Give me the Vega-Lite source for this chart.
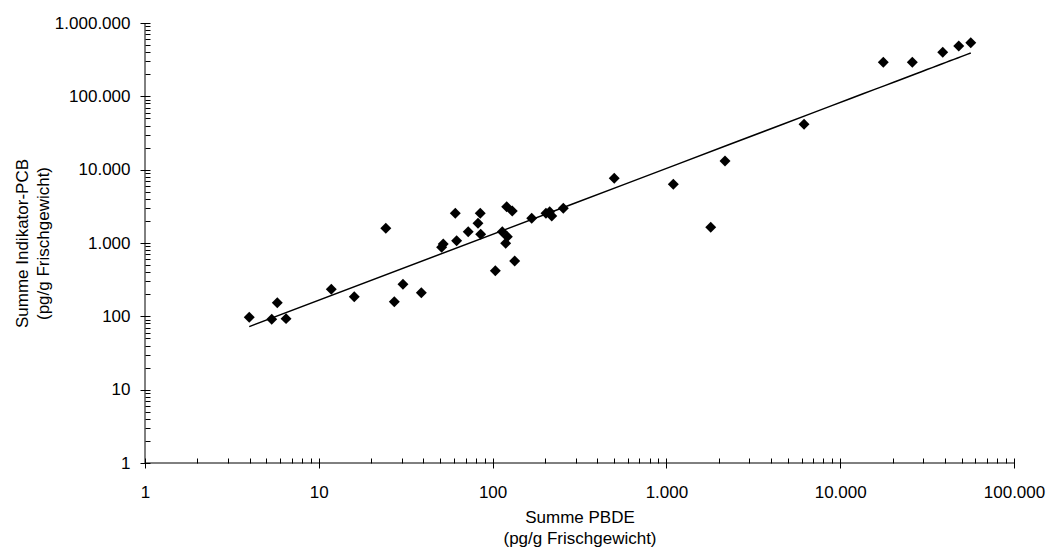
{
  "$schema": "https://vega.github.io/schema/vega-lite/v6.json",
  "width": 869,
  "height": 440,
  "autosize": "none",
  "padding": {"left": 145, "top": 23, "right": 39, "bottom": 91},
  "config": {
    "view": {"stroke": null},
    "locale": {"number": {"decimal": ",", "thousands": ".", "grouping": [3], "currency": ["", " €"]}},
    "axis": {
      "labelFont": "Liberation Sans",
      "labelFontSize": 17,
      "labelColor": "#000000",
      "titleFont": "Liberation Sans",
      "titleFontSize": 17,
      "titleFontWeight": "normal",
      "titleColor": "#000000",
      "titleLineHeight": 21,
      "tickColor": "#000000",
      "tickWidth": 1,
      "grid": false
    }
  },
  "data": {
    "values": [
      {"pbde": 3.98, "pcb": 97},
      {"pbde": 5.36, "pcb": 91},
      {"pbde": 5.77, "pcb": 153},
      {"pbde": 6.48, "pcb": 93},
      {"pbde": 11.8, "pcb": 234},
      {"pbde": 16.0, "pcb": 185},
      {"pbde": 24.3, "pcb": 1585},
      {"pbde": 27.2, "pcb": 158},
      {"pbde": 30.5, "pcb": 273},
      {"pbde": 38.9, "pcb": 210},
      {"pbde": 50.9, "pcb": 874},
      {"pbde": 52.0, "pcb": 970},
      {"pbde": 61.0, "pcb": 2541},
      {"pbde": 62.1, "pcb": 1076},
      {"pbde": 72.4, "pcb": 1426},
      {"pbde": 82.4, "pcb": 1857},
      {"pbde": 84.9, "pcb": 2541},
      {"pbde": 85.4, "pcb": 1315},
      {"pbde": 120.5, "pcb": 3126},
      {"pbde": 129.8, "pcb": 2733},
      {"pbde": 113.7, "pcb": 1426},
      {"pbde": 121.6, "pcb": 1219},
      {"pbde": 118.9, "pcb": 991},
      {"pbde": 134.0, "pcb": 569},
      {"pbde": 103.7, "pcb": 419},
      {"pbde": 167.9, "pcb": 2173},
      {"pbde": 202.8, "pcb": 2541},
      {"pbde": 213, "pcb": 2673},
      {"pbde": 219, "pcb": 2336},
      {"pbde": 255.2, "pcb": 2972},
      {"pbde": 501, "pcb": 7625},
      {"pbde": 1096, "pcb": 6321},
      {"pbde": 2174, "pcb": 13130},
      {"pbde": 1799, "pcb": 1637},
      {"pbde": 6194, "pcb": 41590},
      {"pbde": 17700, "pcb": 291000},
      {"pbde": 26000, "pcb": 291000},
      {"pbde": 38900, "pcb": 399000},
      {"pbde": 48100, "pcb": 486000},
      {"pbde": 56400, "pcb": 539000}
    ]
  },
  "layer": [
    {
      "data": {"values": [{}]},
      "mark": {"type": "rule", "color": "#000000", "strokeWidth": 1},
      "encoding": {
        "y": {"datum": 1, "type": "quantitative", "scale": {"type": "log", "domain": [1, 1000000], "nice": false}}
      }
    },
    {
      "data": {"values": [{}]},
      "mark": {"type": "rule", "color": "#000000", "strokeWidth": 1},
      "encoding": {
        "x": {"datum": 1, "type": "quantitative", "scale": {"type": "log", "domain": [1, 100000], "nice": false}}
      }
    },
    {
      "transform": [{"regression": "pcb", "on": "pbde", "method": "pow"}],
      "mark": {"type": "line", "color": "#000000", "strokeWidth": 1.5},
      "encoding": {
        "x": {"field": "pbde", "type": "quantitative", "scale": {"type": "log", "domain": [1, 100000], "nice": false}},
        "y": {"field": "pcb", "type": "quantitative", "scale": {"type": "log", "domain": [1, 1000000], "nice": false}}
      }
    },
    {
      "mark": {"type": "point", "shape": "diamond", "filled": true, "color": "#000000", "opacity": 1, "size": 120},
      "encoding": {
        "x": {
          "field": "pbde", "type": "quantitative",
          "scale": {"type": "log", "domain": [1, 100000], "nice": false},
          "axis": {
            "title": ["Summe PBDE", "(pg/g Frischgewicht)"],
            "values": [1,2,3,4,5,6,7,8,9,10,20,30,40,50,60,70,80,90,100,200,300,400,500,600,700,800,900,1000,2000,3000,4000,5000,6000,7000,8000,9000,10000,20000,30000,40000,50000,60000,70000,80000,90000,100000],
            "format": ",d",
            "labelExpr": "abs(log(datum.value)/LN10 - round(log(datum.value)/LN10)) < 0.000001 ? datum.label : ''",
            "domain": false,
            "offset": -5,
            "tickSize": 10,
            "tickDash": {"condition": {"test": "abs(log(datum.value)/LN10 - round(log(datum.value)/LN10)) < 0.000001", "value": []}, "value": [5, 20]},
            "labelPadding": 16,
            "labelOverlap": false,
            "labelFlush": false,
            "titlePadding": 9
          }
        },
        "y": {
          "field": "pcb", "type": "quantitative",
          "scale": {"type": "log", "domain": [1, 1000000], "nice": false},
          "axis": {
            "title": ["Summe Indikator-PCB", "(pg/g Frischgewicht)"],
            "values": [1,2,3,4,5,6,7,8,9,10,20,30,40,50,60,70,80,90,100,200,300,400,500,600,700,800,900,1000,2000,3000,4000,5000,6000,7000,8000,9000,10000,20000,30000,40000,50000,60000,70000,80000,90000,100000,200000,300000,400000,500000,600000,700000,800000,900000,1000000],
            "format": ",d",
            "labelExpr": "abs(log(datum.value)/LN10 - round(log(datum.value)/LN10)) < 0.000001 ? datum.label : ''",
            "domain": false,
            "offset": -5,
            "tickSize": 10,
            "tickDash": {"condition": {"test": "abs(log(datum.value)/LN10 - round(log(datum.value)/LN10)) < 0.000001", "value": []}, "value": [5, 20]},
            "labelPadding": 10,
            "labelOverlap": false,
            "labelFlush": false,
            "titlePadding": 2
          }
        }
      }
    }
  ]
}
